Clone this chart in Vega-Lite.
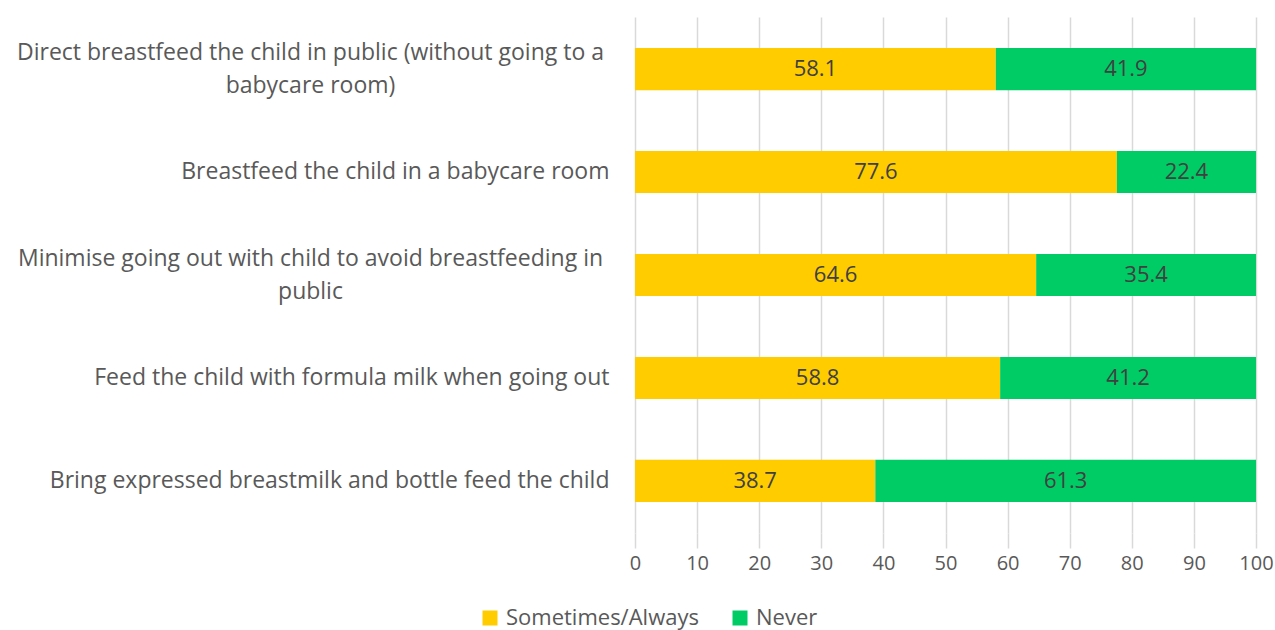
{
  "$schema": "https://vega.github.io/schema/vega-lite/v6.json",
  "autosize": "none",
  "width": 621,
  "height": 516,
  "padding": {"left": 635, "top": 17, "right": 19, "bottom": 97},
  "background": "white",
  "config": {"font": "Open Sans", "view": {"stroke": null}},
  "data": {"values": [
    {"task": "Direct breastfeed the child in public (without going to a|babycare room)", "series": "Sometimes/Always", "value": 58.1},
    {"task": "Direct breastfeed the child in public (without going to a|babycare room)", "series": "Never", "value": 41.9},
    {"task": "Breastfeed the child in a babycare room", "series": "Sometimes/Always", "value": 77.6},
    {"task": "Breastfeed the child in a babycare room", "series": "Never", "value": 22.4},
    {"task": "Minimise going out with child to avoid breastfeeding in|public", "series": "Sometimes/Always", "value": 64.6},
    {"task": "Minimise going out with child to avoid breastfeeding in|public", "series": "Never", "value": 35.4},
    {"task": "Feed the child with formula milk when going out", "series": "Sometimes/Always", "value": 58.8},
    {"task": "Feed the child with formula milk when going out", "series": "Never", "value": 41.2},
    {"task": "Bring expressed breastmilk and bottle feed the child", "series": "Sometimes/Always", "value": 38.7},
    {"task": "Bring expressed breastmilk and bottle feed the child", "series": "Never", "value": 61.3}
  ]},
  "transform": [
    {"stack": "value", "groupby": ["task"], "sort": [{"field": "series", "order": "descending"}], "as": ["v0", "v1"]},
    {"calculate": "(datum.v0 + datum.v1) / 2", "as": "mid"}
  ],
  "encoding": {
    "y": {
      "field": "task", "type": "nominal", "sort": null, "title": null,
      "scale": {"paddingInner": 0.59, "paddingOuter": 0.3},
      "axis": {
        "ticks": false, "domain": false,
        "labelFontSize": 23, "labelColor": "#595959", "labelLimit": 700,
        "labelLineHeight": 33,
        "labelExpr": "split(datum.label, '|')",
        "labelAlign": {"condition": {"test": "indexof(datum.value, '|') >= 0", "value": "center"}, "value": "right"},
        "labelPadding": {"condition": {"test": "indexof(datum.value, '|') >= 0", "value": 325}, "value": 26},
        "labelOffset": {"condition": {"test": "indexof(datum.value, '|') >= 0", "value": -16}, "value": 0}
      }
    }
  },
  "layer": [
    {
      "mark": {"type": "bar"},
      "encoding": {
        "x": {
          "field": "v0", "type": "quantitative", "title": null,
          "scale": {"domain": [0, 100]},
          "axis": {
            "values": [0, 10, 20, 30, 40, 50, 60, 70, 80, 90, 100],
            "grid": true, "gridColor": "#D9D9D9", "gridWidth": 1.5,
            "domain": false, "tickSize": 15, "tickColor": "#D9D9D9", "tickWidth": 1.5,
            "labelFlush": false,
            "labelFontSize": 20, "labelColor": "#595959", "labelPadding": 5
          }
        },
        "x2": {"field": "v1"},
        "color": {
          "field": "series", "type": "nominal", "title": null,
          "scale": {"domain": ["Sometimes/Always", "Never"], "range": ["#FFCC00", "#00CC66"]},
          "legend": {
            "orient": "none", "direction": "horizontal", "legendX": -156, "legendY": 590,
            "symbolType": "square", "symbolSize": 225, "symbolStrokeWidth": 0,
            "labelFontSize": 22, "labelColor": "#595959", "labelLimit": 400, "columnPadding": 30, "labelOffset": 5
          }
        }
      }
    },
    {
      "mark": {"type": "text", "fontSize": 22, "color": "#404040"},
      "encoding": {
        "x": {"field": "mid", "type": "quantitative"},
        "text": {"field": "value", "type": "quantitative", "format": ".1f"}
      }
    }
  ]
}
